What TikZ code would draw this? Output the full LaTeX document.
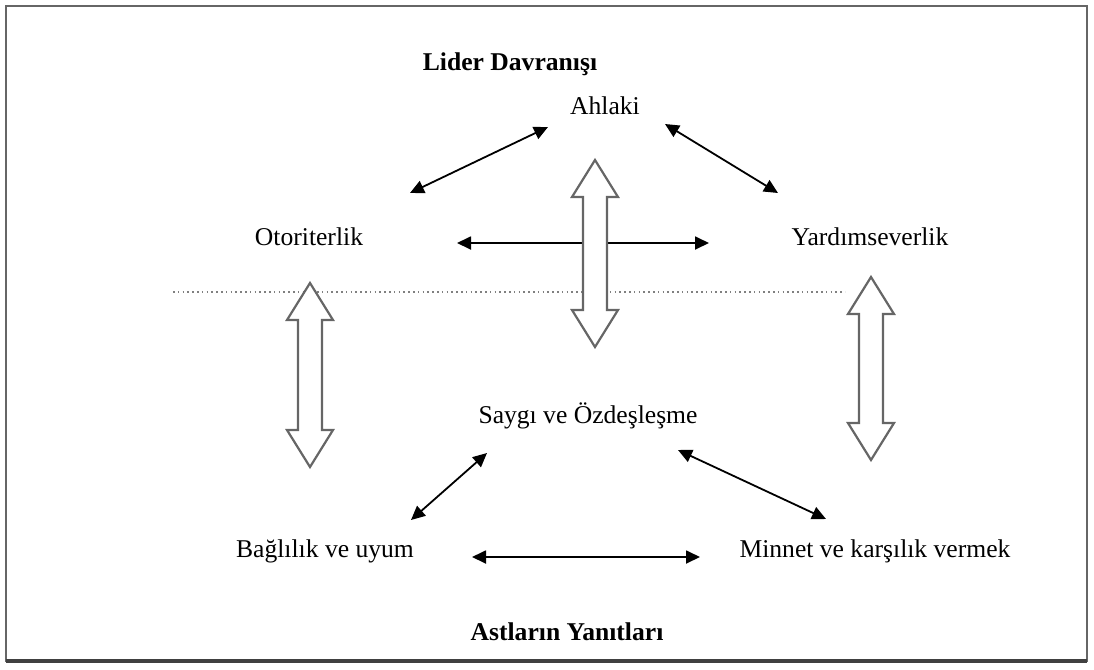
\documentclass[tikz,border=0pt]{standalone}
\usepackage{fontspec}
\setmainfont{Liberation Serif}
\usetikzlibrary{arrows.meta,calc}

\tikzset{
  lbl/.style={font=\fontsize{12.8}{15}\selectfont, inner sep=2pt, text height=0.7em, text depth=0.2em},
  ttl/.style={lbl, font=\fontsize{12.8}{15}\selectfont\bfseries},
  arr/.style={line width=0.9pt, {Triangle[length=7pt,width=6.5pt]}-{Triangle[length=7pt,width=6.5pt]}},
  fatarr/.style={draw=black!60, line width=1.1pt, fill=white},
  dotline/.style={black!50, line width=0.8pt, dash pattern=on 0.8pt off 1.6pt}
}

% hollow double arrow between two named points (same x)
\newcommand{\fatarrow}[2]{%
  \path[fatarr] let \p1=(#1), \p2=(#2) in
    (\x1,\y1) -- (\x1+11.5pt,\y1-18.5pt) -- (\x1+6pt,\y1-18.5pt)
    -- (\x1+6pt,\y2+18.5pt) -- (\x1+11.5pt,\y2+18.5pt) -- (\x1,\y2)
    -- (\x1-11.5pt,\y2+18.5pt) -- (\x1-6pt,\y2+18.5pt)
    -- (\x1-6pt,\y1-18.5pt) -- (\x1-11.5pt,\y1-18.5pt) -- cycle;}

\begin{document}
\begin{tikzpicture}[x=0.5pt, y=-0.5pt]
\useasboundingbox (0,0) rectangle (1094,670);
\draw[black!60, line width=1pt] (6,6) rectangle (1087,661);
\draw[black!75, line width=2pt] (6,661) -- (1087,661);

\node (lider) at (510,65) [ttl]{Lider Davranışı};
\node (ahlaki) at (605,109) [lbl]{Ahlaki};
\node (otoriter) at (309,240) [lbl]{Otoriterlik};
\node (yardim) at (870,240) [lbl]{Yardımseverlik};
\node (saygi) at (588,418) [lbl]{Saygı ve Özdeşleşme};
\node (bagli) at (325,552) [lbl]{Bağlılık ve uyum};
\node (minnet) at (875,552) [lbl]{Minnet ve karşılık vermek};
\node (astlar) at (567,635) [ttl]{Astların Yanıtları};

\draw[dotline] (173,292) -- (845,292);

\draw[arr] ([shift={(-57,18)}]ahlaki.center) -- ([shift={(101,-47)}]otoriter.center);
\draw[arr] ([shift={(60,15)}]ahlaki.center) -- ([shift={(-92,-47)}]yardim.center);
\draw[arr] ([shift={(148,3)}]otoriter.center) -- ([shift={(-161,3)}]yardim.center);
\draw[arr] ([shift={(-101,35)}]saygi.center) -- ([shift={(86,-32)}]bagli.center);
\draw[arr] ([shift={(90,32)}]saygi.center) -- ([shift={(-49,-33)}]minnet.center);
\draw[arr] ([shift={(147,5)}]bagli.center) -- ([shift={(-175,5)}]minnet.center);

\coordinate (ctop) at (595,160);
\coordinate (cbot) at (595,347);
\coordinate (ltop) at (310,283);
\coordinate (lbot) at (310,467);
\coordinate (rtop) at (871,277);
\coordinate (rbot) at (871,460);
\fatarrow{ctop}{cbot}
\fatarrow{ltop}{lbot}
\fatarrow{rtop}{rbot}
\end{tikzpicture}
\end{document}
